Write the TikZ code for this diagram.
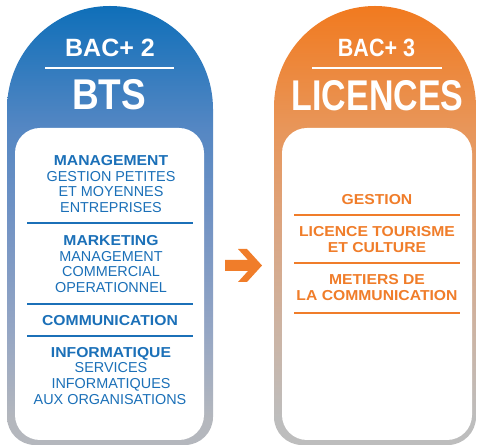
\documentclass[tikz,border=0pt]{standalone}
\usepackage{fontspec}
\setmainfont{Liberation Sans}
\newfontfamily\bodyb{Liberation Sans}[FakeStretch=1.09]
\definecolor{txtblue}{HTML}{1B70B8}
\definecolor{txtorange}{HTML}{F07D2A}
\definecolor{bluebot}{HTML}{B4B7BD}
\definecolor{bluel1}{HTML}{95A6C4}
\definecolor{bluel2}{HTML}{7494C4}
\definecolor{bluel3}{HTML}{5587C3}
\definecolor{bluetop}{HTML}{0F6FB9}
\definecolor{orbot}{HTML}{BDBDBD}
\definecolor{orl1}{HTML}{CCB4A4}
\definecolor{orl2}{HTML}{DCA580}
\definecolor{orl3}{HTML}{E8965A}
\definecolor{ortop}{HTML}{F17A1F}
\pgfdeclareverticalshading{blueshade}{100bp}{
  color(0bp)=(bluebot);
  color(25bp)=(bluebot);
  color(28bp)=(bluebot);
  color(38bp)=(bluel1);
  color(50bp)=(bluel2);
  color(61bp)=(bluel3);
  color(75bp)=(bluetop);
  color(100bp)=(bluetop)}
\pgfdeclareverticalshading{orangeshade}{100bp}{
  color(0bp)=(orbot);
  color(25bp)=(orbot);
  color(28bp)=(orbot);
  color(38bp)=(orl1);
  color(50bp)=(orl2);
  color(61bp)=(orl3);
  color(75bp)=(ortop);
  color(100bp)=(ortop)}
\tikzset{
  bl/.style={anchor=base, inner sep=0pt, text=txtblue, font=\fontsize{14.4}{15}\selectfont},
  blb/.style={bl, font=\bodyb\bfseries\fontsize{14.4}{15}\selectfont},
  orb/.style={anchor=base, inner sep=0pt, text=txtorange, font=\bodyb\bfseries\fontsize{14.4}{15}\selectfont},
  sepblue/.style={draw=txtblue, line width=1.5pt},
  seporange/.style={draw=txtorange, line width=1.5pt},
  headsmall/.style={anchor=base, inner sep=0pt, text=white, font=\bfseries\fontsize{25}{25}\selectfont},
  headbig/.style={anchor=base, inner sep=0pt, text=white, font=\bfseries\fontsize{43}{43}\selectfont},
  whiteline/.style={draw=white, line width=1.8pt}
}
\begin{document}
\begin{tikzpicture}[x=1pt,y=1pt]
\useasboundingbox (0,0) rectangle (477,446);
% left pill
\path[shading=blueshade] (7,337) arc[start angle=180,end angle=0,radius=103] -- (213,29) arc[start angle=0,end angle=-90,radius=28] -- (35,1) arc[start angle=270,end angle=180,radius=28] -- cycle;
\fill[white, rounded corners=25pt] (15,6) rectangle (204,318);
% right pill
\path[shading=orangeshade] (274,339) arc[start angle=180,end angle=0,radius=101] -- (476,29) arc[start angle=0,end angle=-90,radius=28] -- (302,1) arc[start angle=270,end angle=180,radius=28] -- cycle;
\fill[white, rounded corners=25pt] (282,6) rectangle (472,318);
% headings
\node[headsmall] (bac2) at (110,389) {BAC+ 2};
\draw[whiteline] (45,378) -- (174,378);
\node[headbig, xscale=0.86] (bts) at (109,336) {BTS};
\node[headsmall, xscale=0.86] (bac3) at (376.5,389) {BAC+ 3};
\draw[whiteline] (312,378) -- (442,378);
\node[headbig, xscale=0.79] (lic) at (377.5,335) {LICENCES};
% left body
\node[blb] (m1) at (111,280) {MANAGEMENT};
\node[bl] (m2) at (111,264) {GESTION PETITES};
\node[bl] (m3) at (111,249) {ET MOYENNES};
\node[bl] (m4) at (111,233) {ENTREPRISES};
\draw[sepblue] (27,223) -- (193,223);
\node[blb] (k1) at (111,200) {MARKETING};
\node[bl] (k2) at (111,184) {MANAGEMENT};
\node[bl] (k3) at (111,169) {COMMERCIAL};
\node[bl] (k4) at (111,153) {OPERATIONNEL};
\draw[sepblue] (27,142) -- (193,142);
\node[blb] (c1) at (110,120) {COMMUNICATION};
\draw[sepblue] (27,110) -- (193,110);
\node[blb] (i1) at (111,88) {INFORMATIQUE};
\node[bl] (i2) at (111,73) {SERVICES};
\node[bl] (i3) at (111,57) {INFORMATIQUES};
\node[bl] (i4) at (110,41) {AUX ORGANISATIONS};
% right body
\node[orb] (g1) at (377,241) {GESTION};
\draw[seporange] (294,231) -- (460,231);
\node[orb] (t1) at (377,209) {LICENCE TOURISME};
\node[orb] (t2) at (377,193) {ET CULTURE};
\draw[seporange] (294,183) -- (460,183);
\node[orb] (w1) at (377,161) {METIERS DE};
\node[orb] (w2) at (377,145) {LA COMMUNICATION};
\draw[seporange] (294,133) -- (460,133);
% arrow
\fill[txtorange] (225,186) -- (248,186) -- (238,197) -- (247,197) -- (262,180.5) -- (247,164) -- (238,164) -- (248,175) -- (225,175) -- cycle;
\end{tikzpicture}
\end{document}
